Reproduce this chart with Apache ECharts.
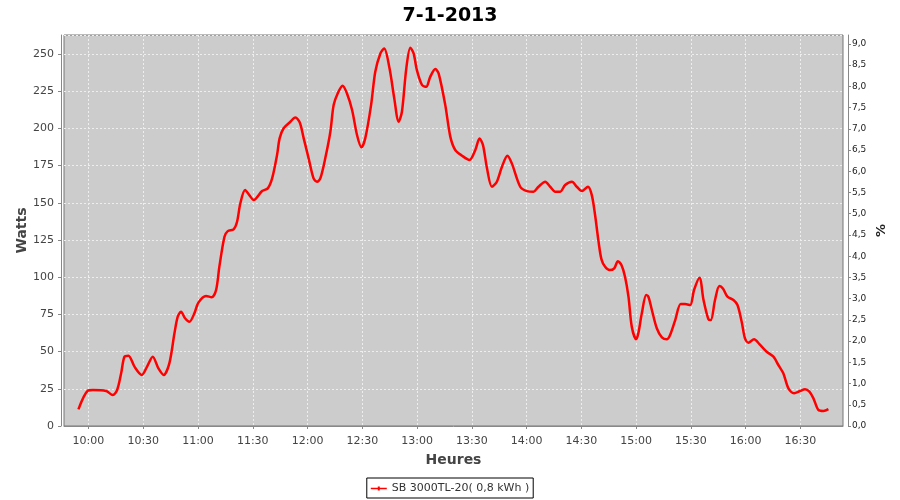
<!DOCTYPE html>
<html><head><meta charset="utf-8">
<script src="https://cdn.jsdelivr.net/npm/echarts@6/dist/echarts.min.js"></script>
<style>html,body{margin:0;padding:0;background:#fff}#c{width:900px;height:500px}</style>
</head><body><div id="c"></div>
<script>
const titleText = '7-1-2013';
const seriesName = 'SB 3000TL-20( 0,8 kWh )';
const xAxisName = 'Heures';
const yAxisName = 'Watts';
const y2AxisName = '%';
// minutes since midnight
const times = [594.5,599.6,602.4,609.7,613.3,615.7,617.9,619.7,621.9,625.2,629.2,632.1,635.2,638.3,641.2,644.3,647.1,648.9,650.7,652.9,655.3,658,660.2,664.4,667.5,669.9,671.7,674.5,676.3,679.5,681.4,683.2,685.8,688.1,690.5,695.1,698.2,700.6,703.3,704.7,706.9,710.6,713.3,715.7,717.9,720.6,723.3,725.2,727,729.7,732.5,734.3,736.5,739.2,741.6,744.4,747.1,749.5,751.6,754.8,757.1,759.9,762,764.9,767.5,769.9,771.7,774.1,776.3,778.1,779.9,782.7,785,787.2,790,791.8,795.4,798.2,800.9,804.6,808.7,811.9,814.2,816.1,818.3,821,823.7,826.5,829.5,831.9,836.5,840.2,843.8,846.5,850.2,852.9,855.7,858.4,861.1,864.8,867.5,870.3,873.6,875.7,877.5,879.4,881,883,885.5,888,890,892,893.9,895.8,897.6,900,901.2,903.1,905.5,906.7,908.6,911.3,914.1,916.8,918.6,921.4,924.4,926.8,929.6,931.7,934.7,936.9,939.6,940.9,943.2,945.6,947.5,950,953.3,955.5,957.8,959.6,961.5,964.6,967.5,971.5,975.2,977.9,980.6,983.4,986.5,989.8,992.5,994.9,997.1,999.8,1002.6,1005.3];
const watts = [11.2,23.7,24.2,23.5,20.8,24.2,35.4,46.6,47.3,39.9,34.3,39.9,46.6,38.8,34.3,42.1,62.3,73.5,76.8,72.4,70.1,75.7,82.9,87.4,86.5,91.4,107.1,127.2,131,132.2,137.3,149.7,158.6,155.2,151.9,157.9,159.7,166.4,182.1,193.3,200.1,204.5,207.4,204.1,193.3,179.9,166.4,164.2,166.4,179.9,197.8,215.7,223.5,228.7,223.5,212.4,195.6,187.3,193.3,215.7,238.1,250.4,253.8,240.4,220.2,204.5,211.2,240.4,254.3,250.4,239.2,229.2,228,234.7,239.9,237,216,194.5,185.5,181.7,178.8,185.5,193.3,188.8,173.2,160.8,164.2,174.3,181.7,176.5,160.8,157.9,157.5,160.8,164.2,160.8,157.5,157.5,162,164.2,160.8,157.9,160.8,155.2,141.8,123.9,112,107,104.8,106,110.8,108,100.3,86.9,66.7,58.3,62.3,75.7,88,86.9,78,65.7,59.6,58.3,61.2,71.2,82,82,81.3,91.4,99.7,84.7,71.7,71.2,84.7,94.1,92.5,86.9,84.7,81.3,70.1,58.9,56,58.3,55.1,49.9,46.6,41,35.4,25.3,22,23.5,24.7,23.1,18.6,10.8,10.1,11.4];
const xTickValues = [600,630,660,690,720,750,780,810,840,870,900,930,960,990];

const font = 'DejaVu Sans';
const pad2 = n => (n < 10 ? '0' : '') + n;
const fmtTime = v => { const m = Math.round(v); return pad2(Math.floor(m/60)) + ':' + pad2(m % 60); };
const seriesData = times.map((t, i) => [t, watts[i]]);

const chart = echarts.init(document.getElementById('c'), null, {renderer: 'canvas'});
chart.setOption({
  animation: false,
  backgroundColor: '#ffffff',
  title: {
    text: titleText, left: 'center', top: 2,
    textStyle: {fontFamily: font, fontWeight: 'bold', fontSize: 19, color: '#000'}
  },
  legend: {
    bottom: 2, left: 'center',
    data: [{name: seriesName, icon: 'path://M0,4.2 L7,4.2 L7,3 L9,3 L9,4.2 L16,4.2 L16,5.8 L9,5.8 L9,7 L7,7 L7,5.8 L0,5.8 Z'}],
    borderColor: '#000', borderWidth: 1, borderRadius: 0,
    padding: [5, 4, 4, 4],
    itemWidth: 16, itemHeight: 5, itemGap: 4,
    textStyle: {fontFamily: font, fontSize: 11, color: '#333'}
  },
  grid: {
    left: 64, right: 57, top: 35, bottom: 74,
    show: true, backgroundColor: '#cccccc', borderColor: '#777', borderWidth: 1
  },
  xAxis: {
    type: 'value', min: 586.6, max: 1013.3,
    offset: 4,
    name: xAxisName, nameLocation: 'middle', nameGap: 23, nameMoveOverlap: false,
    nameTextStyle: {fontFamily: font, fontSize: 14, fontWeight: 'bold', color: '#444'},
    axisLine: {show: true, lineStyle: {color: '#888', width: 1}},
    axisTick: {show: true, length: 3, customValues: xTickValues, lineStyle: {color: '#888'}},
    axisLabel: {customValues: xTickValues, formatter: fmtTime, margin: 6, fontFamily: font, fontSize: 11, color: '#444'},
    splitLine: {show: true, lineStyle: {color: '#eeeeee', width: 1, type: [2, 2]}}
  },
  yAxis: [{
    type: 'value', min: 0, max: 262.8, interval: 25,
    offset: 3, position: 'left',
    name: yAxisName, nameLocation: 'middle', nameGap: 32, nameMoveOverlap: false,
    nameTextStyle: {fontFamily: font, fontSize: 14, fontWeight: 'bold', color: '#444'},
    axisLine: {show: true, lineStyle: {color: '#888', width: 1}},
    axisTick: {show: true, length: 3, lineStyle: {color: '#888'}},
    axisLabel: {showMaxLabel: false, margin: 7, fontFamily: font, fontSize: 11, color: '#444'},
    splitLine: {show: true, lineStyle: {color: '#eeeeee', width: 1, type: [2, 2]}}
  }, {
    type: 'value', min: 0, max: 9.21, interval: 0.5,
    offset: 5, position: 'right',
    name: y2AxisName, nameLocation: 'middle', nameGap: 27, nameMoveOverlap: false,
    nameTextStyle: {fontFamily: font, fontSize: 13, fontWeight: 'bold', color: '#222'},
    axisLine: {show: true, lineStyle: {color: '#888', width: 1}},
    axisTick: {show: true, length: 3, lineStyle: {color: '#888'}},
    axisLabel: {showMaxLabel: false, margin: 4, fontFamily: font, fontSize: 9, color: '#222',
      formatter: v => v.toFixed(1).replace('.', ',')},
    splitLine: {show: false}
  }],
  series: [{
    name: seriesName, type: 'line', yAxisIndex: 0,
    data: seriesData, showSymbol: false, symbol: 'none',
    smooth: 0.3,
    lineStyle: {color: '#ff0000', width: 2.5},
    itemStyle: {color: '#ff0000'}
  }]
});
</script></body></html>
